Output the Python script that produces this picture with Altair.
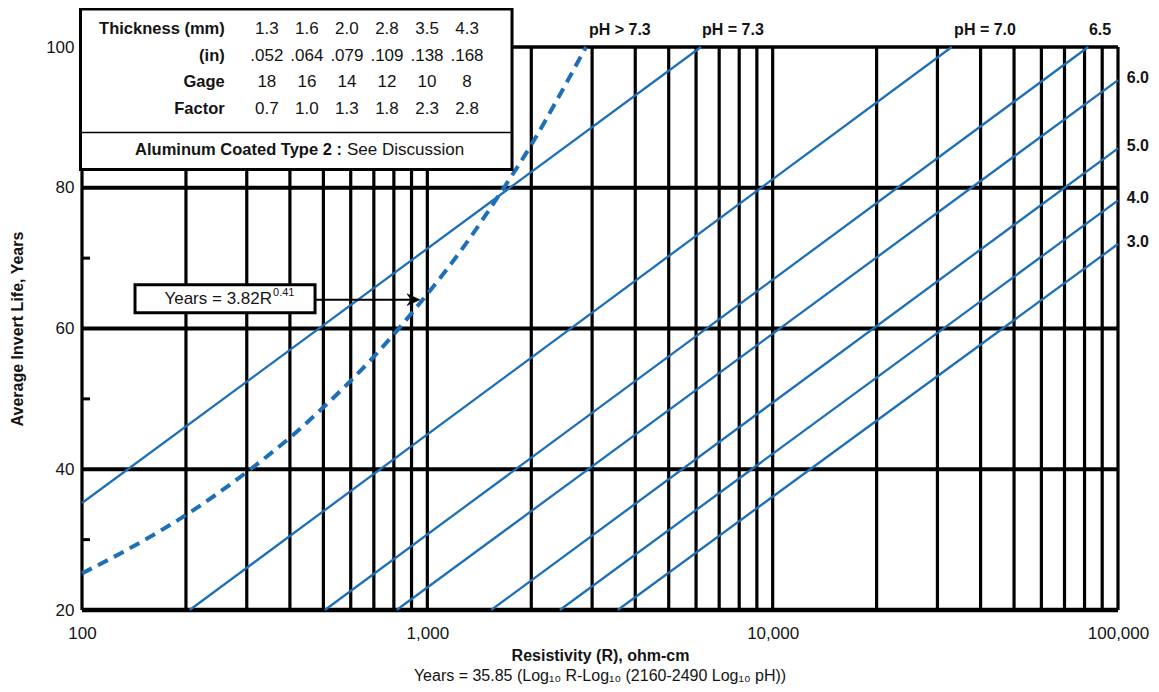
import altair as alt
import pandas as pd

# ---------------- data ----------------
grid_R = [200, 300, 400, 500, 600, 700, 800, 900, 1000,
          2000, 3000, 4000, 5000, 6000, 7000, 8000, 9000, 10000,
          20000, 30000, 40000, 50000, 60000, 70000, 80000, 90000]
grid_years = [40, 60, 80]
minor_years = [30, 50, 70, 90]

ph_names = ["7.3", "7.0", "6.5", "6.0", "5.0", "4.0", "3.0"]
line_R0 = [100, 205, 505, 815, 1530, 2420, 3560]
line_Y0 = [35.2, 20, 20, 20, 20, 20, 20]
line_R1 = [6200, 33000, 82000, 100000, 100000, 100000, 100000]
line_Y1 = [100, 100, 100, 95.3, 85.6, 78.2, 72.0]

curve_R = [100, 150, 200, 300, 400, 500, 700, 1000, 1300, 1600, 2000, 2400, 2880]
curve_Y = [25.2, 29.8, 33.5, 39.6, 44.5, 48.8, 56.0, 64.9, 72.2, 78.7, 86.1, 92.9, 100]

row_labels = ["Thickness (mm)", "(in)", "Gage", "Factor"]
thickness_mm = ["1.3", "1.6", "2.0", "2.8", "3.5", "4.3"]
thickness_in = [".052", ".064", ".079", ".109", ".138", ".168"]
gage = ["18", "16", "14", "12", "10", "8"]
factor = ["0.7", "1.0", "1.3", "1.8", "2.3", "2.8"]

top_labels = ["pH > 7.3", "pH = 7.3", "pH = 7.0", "6.5"]
right_labels = ["6.0", "5.0", "4.0", "3.0"]

# ---------------- annotation layout (data units) ----------------
FONT = "Liberation Sans, Arial, sans-serif"
INK = "#141414"
BLUE = "#1d6fb8"

top_label_R = [3610, 7670, 41200, 88700]
top_label_Y = 102.4
right_label_R = 106000
right_label_Y = [95.6, 85.9, 78.5, 72.3]

table_R = (99, 1759)
table_Y = (82.6, 105.4)
table_sep_Y = 87.85
table_label_R = 259
table_col_R = [343, 448, 585, 764, 998, 1303]
table_row_Y = [102.6, 98.7, 95.0, 91.2]
table_foot_Y = 85.3
foot_split_R = (566, 585)

eq_box_R = (142.4, 473)
eq_box_Y = (62.25, 66.2)
eq_text_Y = 64.2
eq_split_R = 355
arrow_R = (473, 912)
arrow_Y = 64.1

# ---------------- frames ----------------
lines = pd.DataFrame({
    "ph": ph_names * 2,
    "R": line_R0 + line_R1,
    "Y": line_Y0 + line_Y1,
})
curve = pd.DataFrame({"R": curve_R, "Y": curve_Y})

X = alt.X("R:Q",
          scale=alt.Scale(type="log", domain=[100, 100000], nice=False),
          axis=alt.Axis(values=[100, 1000, 10000, 100000], format=",",
                        grid=False, ticks=False, tickSize=0, domain=False,
                        labelFont=FONT, labelFontSize=17, labelColor=INK,
                        labelPadding=15, labelFlush=False,
                        title="Resistivity (R), ohm-cm", titleFont=FONT,
                        titleFontSize=16, titleFontWeight="bold",
                        titleColor=INK, titlePadding=6))
Y = alt.Y("Y:Q",
          scale=alt.Scale(domain=[20, 100], nice=False, zero=False),
          axis=alt.Axis(values=[20, 40, 60, 80, 100], grid=False,
                        ticks=False, tickSize=0, domain=False,
                        labelFont=FONT, labelFontSize=17, labelColor=INK,
                        labelPadding=8,
                        title="Average Invert Life, Years", titleFont=FONT,
                        titleFontSize=16, titleFontWeight="bold",
                        titleColor=INK, titlePadding=20))

# grid + frame
vgrid = alt.Chart(pd.DataFrame({"R": grid_R})).mark_rule(
    color="black", strokeWidth=3.2).encode(x=X)
hgrid = alt.Chart(pd.DataFrame({"Y": grid_years})).mark_rule(
    color="black", strokeWidth=3.8).encode(y=Y)
frame_v = alt.Chart(pd.DataFrame({"R": [100, 100000]})).mark_rule(
    color="black", strokeWidth=3.2).encode(x=X)
frame_top = alt.Chart(pd.DataFrame({"Y": [100]})).mark_rule(
    color="black", strokeWidth=3.4).encode(y=Y)
frame_bottom = alt.Chart(pd.DataFrame({"Y": [20]})).mark_rule(
    color="black", strokeWidth=4.6).encode(y=Y)
minor = alt.Chart(pd.DataFrame({"Y": minor_years, "R": [100] * 4,
                                "R2": [105.5] * 4})).mark_rule(
    color="black", strokeWidth=3).encode(x=X, x2="R2", y=Y)

ph_lines = alt.Chart(lines).mark_line(color=BLUE, strokeWidth=2.3).encode(
    x=X, y=Y, detail="ph:N")
dashed = alt.Chart(curve).mark_line(
    color=BLUE, strokeWidth=4, strokeDash=[11, 7],
    interpolate="monotone").encode(x=X, y=Y)

# table box
table_box = alt.Chart(pd.DataFrame({
    "R": [table_R[0]], "R2": [table_R[1]],
    "Y": [table_Y[0]], "Y2": [table_Y[1]]})).mark_rect(
    fill="white", stroke="black", strokeWidth=3).encode(
    x=X, x2="R2", y=Y, y2="Y2")
table_sep = alt.Chart(pd.DataFrame({
    "R": [table_R[0]], "R2": [table_R[1]], "Y": [table_sep_Y]})).mark_rule(
    color="black", strokeWidth=1.6).encode(x=X, x2="R2", y=Y)


def text_layer(df, **kw):
    base = dict(font=FONT, color=INK, baseline="middle")
    base.update(kw)
    return alt.Chart(df).mark_text(**base).encode(x=X, y=Y, text="t:N")


row_lab = text_layer(pd.DataFrame({
    "R": [table_label_R] * 4, "Y": table_row_Y, "t": row_labels}),
    align="right", fontSize=16.5, fontWeight="bold")
cells = []
for vals, yv in zip([thickness_mm, thickness_in, gage, factor], table_row_Y):
    cells.append(pd.DataFrame({"R": table_col_R, "Y": [yv] * 6, "t": vals}))
cell_txt = text_layer(pd.concat(cells, ignore_index=True),
                      align="center", fontSize=17)
foot_bold = text_layer(pd.DataFrame({
    "R": [foot_split_R[0]], "Y": [table_foot_Y],
    "t": ["Aluminum Coated Type 2 :"]}),
    align="right", fontSize=16.5, fontWeight="bold")
foot_reg = text_layer(pd.DataFrame({
    "R": [foot_split_R[1]], "Y": [table_foot_Y], "t": ["See Discussion"]}),
    align="left", fontSize=17)

# equation box + arrow
eq_box = alt.Chart(pd.DataFrame({
    "R": [eq_box_R[0]], "R2": [eq_box_R[1]],
    "Y": [eq_box_Y[0]], "Y2": [eq_box_Y[1]]})).mark_rect(
    fill="white", stroke="black", strokeWidth=3).encode(
    x=X, x2="R2", y=Y, y2="Y2")
arrow_line = alt.Chart(pd.DataFrame({
    "R": [arrow_R[0]], "R2": [arrow_R[1]], "Y": [arrow_Y]})).mark_rule(
    color="black", strokeWidth=2).encode(x=X, x2="R2", y=Y)
arrow_head = alt.Chart(pd.DataFrame({
    "R": [arrow_R[1]], "Y": [arrow_Y]})).mark_point(
    shape="M1,0 L-1,-0.9 L-0.4,0 L-1,0.9 Z", filled=True, fill="black",
    stroke="black", strokeWidth=0.5, size=169, opacity=1).encode(x=X, y=Y)
eq_main = text_layer(pd.DataFrame({
    "R": [eq_split_R], "Y": [eq_text_Y], "t": ["Years = 3.82R"]}),
    align="right", fontSize=17)
eq_sup = text_layer(pd.DataFrame({
    "R": [eq_split_R], "Y": [eq_text_Y], "t": ["0.41"]}),
    align="left", fontSize=11, dx=1, dy=-6)

# pH labels
top_txt = text_layer(pd.DataFrame({
    "R": top_label_R, "Y": [top_label_Y] * 4, "t": top_labels}),
    align="center", fontSize=16, fontWeight="bold")
right_txt = text_layer(pd.DataFrame({
    "R": [right_label_R] * 4, "Y": right_label_Y, "t": right_labels}),
    align="left", fontSize=16, fontWeight="bold")

chart = alt.layer(
    vgrid, hgrid, frame_v, frame_top, frame_bottom, minor,
    ph_lines, dashed,
    table_box, table_sep, row_lab, cell_txt, foot_bold, foot_reg,
    eq_box, arrow_line, arrow_head, eq_main, eq_sup,
    top_txt, right_txt,
).properties(
    width=1036, height=563,
    padding={"left": 74, "top": 39, "right": 33, "bottom": 76},
    autosize=alt.AutoSizeParams(type="none"),
    title=alt.TitleParams(
        text="Years = 35.85 (Log\u2081\u2080 R-Log\u2081\u2080 (2160-2490 Log\u2081\u2080 pH))",
        orient="bottom", anchor="middle", font=FONT, fontSize=16,
        fontWeight="normal", color=INK, offset=5),
).configure_view(stroke=None)

chart.save("out.html", embed_options={"renderer": "svg", "actions": False})
